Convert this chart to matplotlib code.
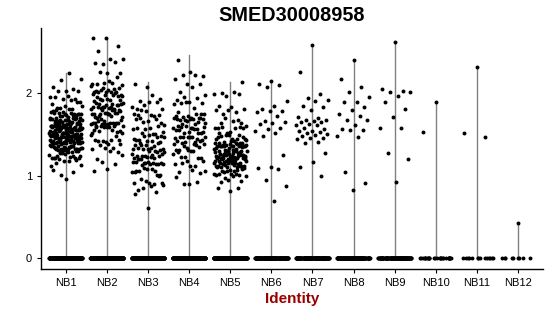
import matplotlib.pyplot as plt
import numpy as np

plt.rcParams["font.family"] = ["Liberation Sans", "DejaVu Sans"]

TITLE = "SMED30008958"
GROUPS = ["NB1", "NB2", "NB3", "NB4", "NB5", "NB6",
          "NB7", "NB8", "NB9", "NB10", "NB11", "NB12"]

# number of cells with zero expression per group
ZERO_COUNTS = [300, 300, 300, 300, 300, 150, 150, 150, 120, 28, 14, 9]

# dense groups: counts of expressing cells per 0.1-wide bin (bin start)
BIN_STARTS = [0.6, 0.7, 0.8, 0.9, 1.0, 1.1, 1.2, 1.3, 1.4, 1.5, 1.6,
              1.7, 1.8, 1.9, 2.0, 2.1, 2.2, 2.3, 2.4, 2.5, 2.6]
NB1_COUNTS = [0, 0, 0, 1, 3, 6, 18, 36, 50, 48, 36, 18, 9, 6, 5, 2, 1, 0, 0, 0, 0]
NB2_COUNTS = [0, 0, 0, 0, 2, 2, 4, 6, 8, 13, 17, 19, 17, 14, 12, 7, 3, 3, 2, 2, 2]
NB3_COUNTS = [1, 2, 4, 7, 10, 14, 15, 14, 11, 9, 7, 7, 6, 3, 1, 1, 0, 0, 0, 0, 0]
NB4_COUNTS = [0, 0, 0, 4, 4, 6, 7, 11, 14, 16, 13, 9, 6, 4, 2, 3, 4, 0, 1, 0, 0]
NB5_COUNTS = [0, 0, 3, 6, 15, 30, 38, 30, 15, 9, 6, 4, 3, 3, 2, 1, 0, 0, 0, 0, 0]
GROUP_MAX = [2.25, 2.66, 2.13, 2.46, 2.13]

# sparse groups: expression values read one by one
NB6_VALUES = [2.15, 2.11, 2.10, 2.07, 1.91, 1.85, 1.81, 1.79, 1.79, 1.77,
              1.72, 1.66, 1.65, 1.64, 1.63, 1.58, 1.56, 1.54, 1.52, 1.48,
              1.25, 1.11, 1.09, 1.08, 0.95, 0.87, 0.69]
NB7_VALUES = [2.58, 2.26, 1.99, 1.94, 1.92, 1.90, 1.85, 1.83, 1.80, 1.71,
              1.70, 1.68, 1.68, 1.66, 1.65, 1.65, 1.63, 1.61, 1.61, 1.58,
              1.56, 1.54, 1.54, 1.53, 1.52, 1.50, 1.49, 1.48, 1.46, 1.46,
              1.44, 1.41, 1.39, 1.27, 1.17, 1.10, 0.99]
NB8_VALUES = [2.40, 2.17, 2.07, 2.02, 1.95, 1.89, 1.89, 1.83, 1.80, 1.75,
              1.72, 1.68, 1.67, 1.61, 1.57, 1.55, 1.55, 1.48, 1.47, 1.04,
              0.91, 0.82]
NB9_VALUES = [2.62, 2.05, 2.03, 2.02, 2.02, 1.97, 1.89, 1.81, 1.71, 1.58,
              1.58, 1.28, 1.20, 0.92]
NB10_VALUES = [1.89, 1.53]
NB11_VALUES = [2.32, 1.52, 1.47]
NB12_VALUES = [0.42]


def spread(n, salt):
    # deterministic hash fractions in [0, 1), used only for placement
    k = np.arange(n, dtype=float)
    h = np.sin(k * 12.9898 + salt * 78.233) * 43758.5453
    return h - np.floor(h)


def expand_bins(counts, salt):
    values = []
    for b, (start, count) in enumerate(zip(BIN_STARTS, counts)):
        if count:
            values.extend(start + 0.1 * spread(count, salt * 31 + b))
    return np.array(values)


def x_jitter(n, width=0.4):
    # golden-ratio sequence, first point sits on the group centre
    k = np.arange(n)
    return ((0.5 + k * 0.6180339887) % 1.0 - 0.5) * 2 * width


def main():
    dense = [NB1_COUNTS, NB2_COUNTS, NB3_COUNTS, NB4_COUNTS, NB5_COUNTS]
    nonzero = [expand_bins(c, i + 1) for i, c in enumerate(dense)]
    nonzero += [np.array(v) for v in
                [NB6_VALUES, NB7_VALUES, NB8_VALUES, NB9_VALUES,
                 NB10_VALUES, NB11_VALUES, NB12_VALUES]]
    maxima = GROUP_MAX + [float(v.max()) for v in nonzero[5:]]

    fig = plt.figure(figsize=(5.5, 3.16), dpi=100)
    ax = fig.add_axes([0.0745, 0.149, 0.9125, 0.762])

    for i, (vals, n_zero, top) in enumerate(zip(nonzero, ZERO_COUNTS, maxima)):
        x = i + 1
        ax.plot([x, x], [0, top], color="#808080", lw=1.0, zorder=1)
        xs = x + x_jitter(len(vals))
        ax.scatter(xs, vals, s=8, color="black", linewidths=0, zorder=2)
        zx = x + (spread(n_zero, 60 + 5 * i) - 0.5) * 0.8
        ax.scatter(zx, np.zeros(n_zero), s=8, color="black",
                   linewidths=0, zorder=2)

    ax.set_xlim(0.4, 12.6)
    ax.set_ylim(-0.133, 2.79)
    ax.set_xticks(range(1, len(GROUPS) + 1))
    ax.set_xticklabels(GROUPS)
    ax.set_yticks([0, 1, 2])
    ax.tick_params(labelsize=8, length=3, width=0.8, colors="black")
    for side in ["top", "right"]:
        ax.spines[side].set_visible(False)
    for side in ["left", "bottom"]:
        ax.spines[side].set_linewidth(1.0)

    ax.set_title(TITLE, fontsize=14.3, fontweight="bold", pad=5)
    ax.set_xlabel("Identity", fontsize=11, fontweight="bold",
                  color="#990000", labelpad=3)

    fig.savefig("out.png", dpi=100)
    plt.close(fig)


if __name__ == "__main__":
    main()
